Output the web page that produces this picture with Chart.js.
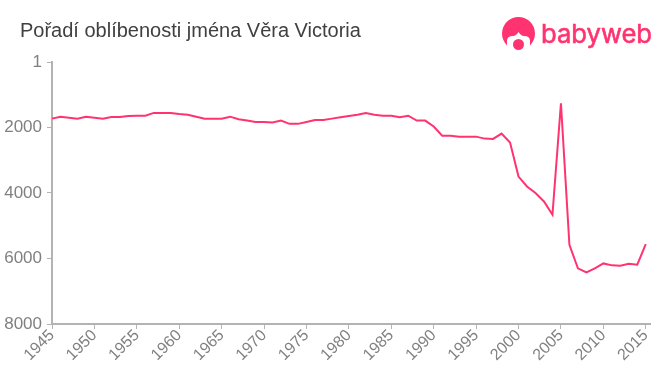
<!DOCTYPE html>
<html>
<head>
<meta charset="utf-8">
<title>Pořadí oblíbenosti jména Věra Victoria</title>
<script src="https://cdn.jsdelivr.net/npm/chart.js@4"></script>
<style>
    html, body { margin: 0; padding: 0; background: #fff; }
    #wrap { position: relative; width: 660px; height: 375px; overflow: hidden; }
    #chartTitle {
        position: absolute; left: 20px; top: 18px; margin: 0;
        font: normal 20px/24px "Liberation Sans", Arial, sans-serif; color: #404040;
    }
    #logo { position: absolute; left: 495px; top: 10px; }
</style>
</head>
<body>
<div id="wrap">
    <canvas id="chart" width="660" height="375"></canvas>
    <h1 id="chartTitle"></h1>
    <svg id="logo" width="165" height="48" viewBox="495 10 165 48">
        <circle cx="518.5" cy="33.5" r="16.5" fill="#ff3370"/>
        <path d="M507 50 L507 41 Q507 36 513 36 Q516 36 518.5 32 Q521 36 524 36 Q530 36 530 41 L530 50 Z" fill="#fff"/>
        <circle cx="518.5" cy="44.5" r="5.5" fill="#ff3370"/>
        <text x="541" y="43" font-family="Inter, sans-serif" font-size="26" fill="#ff3370"
            stroke="#ff3370" stroke-width="0.6" textLength="111" lengthAdjust="spacingAndGlyphs">babyweb</text>
    </svg>
</div>
<script>
const years = [
    1945, 1946, 1947, 1948, 1949, 1950, 1951, 1952, 1953, 1954,
    1955, 1956, 1957, 1958, 1959, 1960, 1961, 1962, 1963, 1964,
    1965, 1966, 1967, 1968, 1969, 1970, 1971, 1972, 1973, 1974,
    1975, 1976, 1977, 1978, 1979, 1980, 1981, 1982, 1983, 1984,
    1985, 1986, 1987, 1988, 1989, 1990, 1991, 1992, 1993, 1994,
    1995, 1996, 1997, 1998, 1999, 2000, 2001, 2002, 2003, 2004,
    2005, 2006, 2007, 2008, 2009, 2010, 2011, 2012, 2013, 2014,
    2015
];
const ranks = [
    1730, 1670, 1700, 1735, 1670, 1700, 1730, 1680, 1680, 1650,
    1640, 1640, 1555, 1555, 1555, 1590, 1610, 1670, 1730, 1730,
    1730, 1670, 1750, 1790, 1830, 1830, 1850, 1790, 1890, 1890,
    1830, 1770, 1770, 1730, 1690, 1650, 1610, 1555, 1610, 1640,
    1640, 1690, 1640, 1790, 1790, 1970, 2250, 2250, 2280, 2280,
    2280, 2340, 2350, 2185, 2460, 3500, 3800, 4000, 4260, 4665,
    1260, 5580, 6300, 6425, 6300, 6150, 6210, 6220, 6160, 6190,
    5560
];
const yTicks = [1, 2000, 4000, 6000, 8000];
const xTicks = [1945, 1950, 1955, 1960, 1965, 1970, 1975, 1980, 1985, 1990, 1995, 2000, 2005, 2010, 2015];

document.getElementById('chartTitle').textContent = 'Pořadí oblíbenosti jména Věra Victoria';

const axisColor = '#b3b3b3';
const labelColor = '#808080';
const fontFamily = '"Liberation Sans", Arial, sans-serif';

new Chart(document.getElementById('chart').getContext('2d'), {
    type: 'line',
    data: {
        datasets: [{
            data: years.map((y, i) => ({ x: y, y: ranks[i] })),
            borderColor: '#ff3370',
            borderWidth: 2,
            pointRadius: 0,
            tension: 0,
            clip: false
        }]
    },
    options: {
        responsive: false,
        animation: false,
        parsing: false,
        layout: { padding: { left: 0, right: 10, top: 62, bottom: 0 } },
        plugins: {
            legend: { display: false },
            tooltip: { enabled: false },
            title: { display: false }
        },
        scales: {
            x: {
                type: 'linear',
                min: 1945,
                max: 2015.5,
                grid: { drawOnChartArea: false, tickLength: 5, tickColor: axisColor, tickWidth: 1 },
                border: { color: axisColor, width: 2 },
                afterBuildTicks: scale => { scale.ticks = xTicks.map(v => ({ value: v })); },
                afterFit: scale => { scale.height = 51; },
                ticks: {
                    color: labelColor,
                    font: { family: fontFamily, size: 16 },
                    minRotation: 45,
                    maxRotation: 45,
                    padding: -3,
                    labelOffset: 0,
                    autoSkip: false,
                    callback: v => String(v)
                }
            },
            y: {
                min: 1,
                max: 8000,
                reverse: true,
                grid: { drawOnChartArea: false, tickLength: 5, tickColor: axisColor, tickWidth: 1 },
                border: { color: axisColor, width: 2 },
                afterBuildTicks: scale => { scale.ticks = yTicks.map(v => ({ value: v })); },
                afterFit: scale => { scale.width = 52; },
                ticks: {
                    color: labelColor,
                    font: { family: fontFamily, size: 17 },
                    padding: 5,
                    autoSkip: false,
                    callback: v => String(v)
                }
            }
        }
    }
});
</script>
</body>
</html>
